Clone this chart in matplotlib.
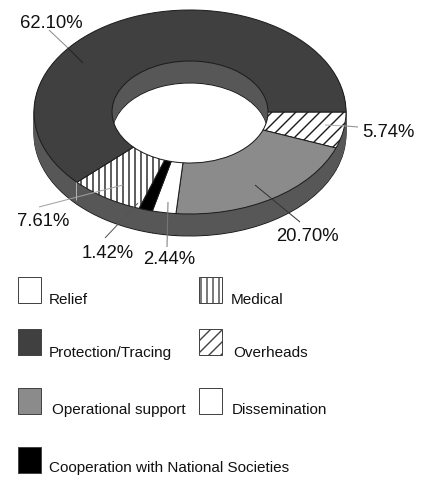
import matplotlib
matplotlib.use("Agg")
import matplotlib.pyplot as plt
from matplotlib.patches import Rectangle

# Data: slices in clockwise order, starting at 3 o'clock
slice_names = ["Overheads", "Operational support", "Dissemination",
               "Cooperation with National Societies", "Medical", "Protection/Tracing"]
slice_values = [5.74, 20.70, 2.44, 1.42, 7.61, 62.10]
slice_labels = ["5.74%", "20.70%", "2.44%", "1.42%", "7.61%", "62.10%"]
slice_colors = ["white", "#8b8b8b", "white", "black", "white", "#404040"]
slice_hatches = ["//", None, None, None, "||", None]

legend_names = ["Relief", "Medical", "Protection/Tracing", "Overheads",
                "Operational support", "Dissemination",
                "Cooperation with National Societies"]
legend_colors = ["white", "white", "#404040", "white", "#8b8b8b", "white", "black"]
legend_hatches = [None, "||", None, "//", None, None, None]

# Layout in pixels
W, H = 426, 477
CX, CY, RX, RY, DEPTH = 190, 112, 156, 102, 22
WALL = "#575757"
EDGE = "#1c1c1c"
LABEL_FONT = ["Liberation Sans", "DejaVu Sans"]
plt.rcParams["hatch.linewidth"] = 1.4

fig = plt.figure(figsize=(W / 72, H / 72), dpi=72, facecolor="white")
ax = fig.add_axes([0, 0, 1, 1])

# Extruded side: stacked copies of the ring, bottom first
for k in range(DEPTH, 0, -1):
    ax.pie(slice_values, startangle=0, counterclock=False, radius=1,
           center=(0, -k / RY), colors=[WALL] * len(slice_values),
           wedgeprops=dict(width=0.5,
                           edgecolor=EDGE if k == DEPTH else WALL,
                           linewidth=1.0 if k == DEPTH else 0.6))

# Top face
ax.pie(slice_values, startangle=0, counterclock=False, radius=1, center=(0, 0),
       colors=slice_colors, hatch=slice_hatches,
       wedgeprops=dict(width=0.5, edgecolor=EDGE, linewidth=1.0))

ax.set_aspect("auto")
ax.set_xlim(-CX / RX, (W - CX) / RX)
ax.set_ylim(-(H - CY) / RY, CY / RY)
ax.axis("off")

# Overlay in pixel coordinates
ov = fig.add_axes([0, 0, 1, 1], facecolor="none")
ov.set_xlim(0, W)
ov.set_ylim(H, 0)
ov.axis("off")

leaders = [
    ((49, 30), (68, 48), "#8a8a8a"),
    ((68, 48), (83, 63), "#222222"),
    ((325, 125), (346, 126), "#b0b0b0"),
    ((346, 126), (358, 127), "#8a8a8a"),
    ((255, 185), (300, 222), "#333333"),
    ((39, 207), (123, 185), "#a0a0a0"),
    ((76, 182), (76, 200), "#b0b0b0"),
    ((105, 238), (138, 203), "#555555"),
    ((167, 247), (168, 202), "#777777"),
]
for (x0, y0), (x1, y1), c in leaders:
    ov.plot([x0, x1], [y0, y1], color=c, lw=1.0, solid_capstyle="butt")

label_pos = {"62.10%": (20, 28), "5.74%": (362, 137), "20.70%": (276, 241),
             "7.61%": (17, 226), "1.42%": (82, 258), "2.44%": (143, 264)}
for s in slice_labels:
    x, y = label_pos[s]
    ov.text(x, y, s, family=LABEL_FONT, fontsize=18.5, color="#111111",
            ha="left", va="baseline")

box_pos = [(18, 277), (199, 277), (18, 329), (199, 329), (18, 388), (199, 388), (18, 447)]
text_pos = [(49, 304), (231, 304), (49, 357), (233, 357), (52, 414), (232, 414), (49, 472)]
for name, col, hat, (bx, by), (tx, ty) in zip(legend_names, legend_colors, legend_hatches,
                                              box_pos, text_pos):
    ov.add_patch(Rectangle((bx, by), 23, 26, facecolor=col, hatch=hat,
                           edgecolor="#444444", linewidth=1.0))
    ov.text(tx, ty, name, family=LABEL_FONT, fontsize=15.2, color="#111111",
            ha="left", va="baseline")

fig.savefig("out.png", dpi=72, facecolor="white")
